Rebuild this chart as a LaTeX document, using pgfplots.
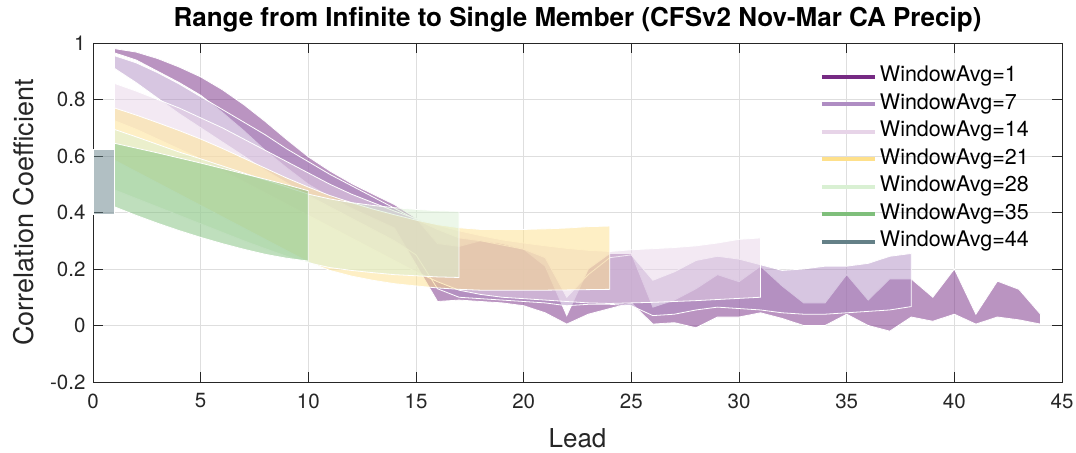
\documentclass[border=0pt]{standalone}
\usepackage{fontspec}
\setmainfont{TeX Gyre Heros}
\usepackage{pgfplots}
\usepackage{pgfplotstable}
\pgfplotsset{compat=1.18}
\usepgfplotslibrary{fillbetween}

\definecolor{cA}{RGB}{118,42,131}
\definecolor{cB}{RGB}{175,141,195}
\definecolor{cC}{RGB}{231,212,232}
\definecolor{cD}{RGB}{254,224,139}
\definecolor{cE}{RGB}{217,240,211}
\definecolor{cF}{RGB}{127,191,123}
\definecolor{cG}{RGB}{100,128,135}
\definecolor{axgray}{RGB}{38,38,38}

% WindowAvg=1
\pgfplotstableread{
lead up lo
1 0.980 0.965
2 0.968 0.940
3 0.945 0.900
4 0.915 0.860
5 0.880 0.815
6 0.835 0.755
7 0.782 0.690
8 0.722 0.620
9 0.658 0.558
10 0.597 0.500
11 0.547 0.455
12 0.503 0.415
13 0.465 0.380
14 0.428 0.345
15 0.380 0.215
16 0.290 0.085
17 0.280 0.090
18 0.300 0.085
19 0.290 0.080
20 0.270 0.070
21 0.210 0.045
22 0.035 0.005
23 0.200 0.040
24 0.255 0.060
25 0.255 0.080
26 0.065 0.005
27 0.090 0.010
28 0.130 -0.008
29 0.180 0.030
30 0.155 0.030
31 0.210 0.045
32 0.140 0.025
33 0.080 0.000
34 0.080 0.000
35 0.180 0.040
36 0.090 0.000
37 0.165 -0.020
38 0.165 0.030
39 0.100 0.015
40 0.200 0.040
41 0.040 0.005
42 0.157 0.030
43 0.128 0.020
44 0.040 0.005
}\bandA

% WindowAvg=7
\pgfplotstableread{
lead up lo
1 0.955 0.910
2 0.930 0.860
3 0.895 0.805
4 0.855 0.750
5 0.810 0.700
6 0.765 0.650
7 0.720 0.600
8 0.675 0.550
9 0.625 0.505
10 0.580 0.460
11 0.535 0.420
12 0.495 0.380
13 0.455 0.340
14 0.415 0.300
15 0.375 0.250
16 0.340 0.130
17 0.310 0.100
18 0.300 0.095
19 0.285 0.090
20 0.270 0.085
21 0.240 0.080
22 0.100 0.070
23 0.180 0.075
24 0.240 0.075
25 0.250 0.070
26 0.160 0.035
27 0.190 0.040
28 0.230 0.055
29 0.245 0.065
30 0.235 0.060
31 0.215 0.055
32 0.195 0.045
33 0.200 0.040
34 0.210 0.040
35 0.210 0.045
36 0.220 0.050
37 0.245 0.055
38 0.255 0.067
}\bandB

% WindowAvg=14
\pgfplotstableread{
lead up lo
1 0.857 0.725
2 0.830 0.695
3 0.800 0.660
4 0.770 0.625
5 0.735 0.590
6 0.700 0.550
7 0.660 0.510
8 0.620 0.470
9 0.580 0.430
10 0.540 0.390
11 0.500 0.350
12 0.465 0.310
13 0.435 0.270
14 0.405 0.230
15 0.378 0.190
16 0.355 0.155
17 0.335 0.125
18 0.318 0.110
19 0.303 0.100
20 0.292 0.095
21 0.282 0.090
22 0.273 0.085
23 0.266 0.080
24 0.262 0.078
25 0.268 0.080
26 0.272 0.082
27 0.276 0.085
28 0.282 0.088
29 0.292 0.092
30 0.305 0.096
31 0.310 0.100
}\bandC

% WindowAvg=21
\pgfplotstableread{
lead up lo
1 0.770 0.585
2 0.745 0.545
3 0.718 0.505
4 0.690 0.465
5 0.660 0.425
6 0.627 0.385
7 0.592 0.345
8 0.557 0.305
9 0.522 0.265
10 0.490 0.225
11 0.460 0.195
12 0.435 0.175
13 0.412 0.160
14 0.392 0.148
15 0.373 0.140
16 0.357 0.133
17 0.346 0.128
18 0.340 0.125
19 0.340 0.125
20 0.340 0.125
21 0.342 0.125
22 0.345 0.126
23 0.350 0.127
24 0.352 0.128
}\bandD

% WindowAvg=28
\pgfplotstableread{
lead up lo
1 0.694 0.480
2 0.668 0.450
3 0.641 0.420
4 0.614 0.390
5 0.590 0.360
6 0.565 0.330
7 0.540 0.300
8 0.515 0.272
9 0.490 0.245
10 0.465 0.222
11 0.448 0.205
12 0.435 0.195
13 0.425 0.187
14 0.417 0.180
15 0.411 0.176
16 0.406 0.172
17 0.404 0.170
}\bandE

% WindowAvg=35
\pgfplotstableread{
lead up lo
1 0.645 0.420
2 0.628 0.390
3 0.611 0.362
4 0.593 0.336
5 0.575 0.312
6 0.556 0.290
7 0.537 0.270
8 0.518 0.252
9 0.498 0.238
10 0.477 0.228
}\bandF

% WindowAvg=44
\pgfplotstableread{
lead up lo
0 0.625 0.395
1 0.625 0.395
}\bandG

\begin{document}
\begin{tikzpicture}
\begin{axis}[
  name=ax,
  scale only axis,
  width=969pt, height=339pt,
  xmin=0, xmax=45, ymin=-0.2, ymax=1,
  xtick={0,5,10,15,20,25,30,35,40,45},
  xticklabels={0,5,10,15,20,25,30,35,40,45},
  ytick={-0.2,0,0.2,0.4,0.6,0.8,1},
  yticklabels={-0.2,0,0.2,0.4,0.6,0.8,1},
  tick align=inside,
  major tick length=10pt,
  xtick pos=both, ytick pos=both,
  tick style={draw=axgray, line width=0.8pt},
  axis line style={draw=axgray, line width=0.8pt},
  grid=major,
  grid style={draw=black!13, line width=0.6pt},
  ticklabel style={font=\fontsize{20.5}{24}\selectfont, text=axgray},
  yticklabel style={xshift=-4pt},
  xticklabel style={yshift=-8pt},
  title={Range from Infinite to Single Member (CFSv2 Nov-Mar CA Precip)},
  title style={font=\fontsize{26}{30}\selectfont\bfseries, at={(axis description cs:0.5,1.03)}, anchor=base},
  xlabel={Lead},
  xlabel style={font=\fontsize{26}{30}\selectfont, text=axgray, at={(axis description cs:0.5,-0.192)}, anchor=base},
  ylabel={Correlation Coefficient},
  ylabel style={font=\fontsize{27}{31}\selectfont, text=axgray, at={(axis description cs:-0.0619,0.5)}, anchor=base, rotate=0},
  legend image code/.code={\draw[#1, line width=4pt] (0pt,0pt) -- (53pt,0pt);},
  legend style={draw=none, fill=none, at={(axis description cs:0.750,0.928)}, anchor=north west,
    font=\fontsize{21.5}{25}\selectfont, inner sep=0pt,
    nodes={inner xsep=3pt, inner ysep=0pt, text height=14pt, text depth=4pt},
    row sep=9.5pt},
  legend cell align=left,
]
% band 1
\addplot[draw=none, name path=uA, forget plot] table[x=lead, y=up]{\bandA};
\addplot[draw=none, name path=lA, forget plot] table[x=lead, y=lo]{\bandA};
\addplot[fill=cA, fill opacity=0.5, draw=white, line width=0.8pt, forget plot] fill between[of=uA and lA];
% band 7
\addplot[draw=none, name path=uB, forget plot] table[x=lead, y=up]{\bandB};
\addplot[draw=none, name path=lB, forget plot] table[x=lead, y=lo]{\bandB};
\addplot[fill=cB, fill opacity=0.5, draw=white, line width=0.8pt, forget plot] fill between[of=uB and lB];
% band 14
\addplot[draw=none, name path=uC, forget plot] table[x=lead, y=up]{\bandC};
\addplot[draw=none, name path=lC, forget plot] table[x=lead, y=lo]{\bandC};
\addplot[fill=cC, fill opacity=0.5, draw=white, line width=0.8pt, forget plot] fill between[of=uC and lC];
% band 21
\addplot[draw=none, name path=uD, forget plot] table[x=lead, y=up]{\bandD};
\addplot[draw=none, name path=lD, forget plot] table[x=lead, y=lo]{\bandD};
\addplot[fill=cD, fill opacity=0.5, draw=white, line width=0.8pt, forget plot] fill between[of=uD and lD];
% band 28
\addplot[draw=none, name path=uE, forget plot] table[x=lead, y=up]{\bandE};
\addplot[draw=none, name path=lE, forget plot] table[x=lead, y=lo]{\bandE};
\addplot[fill=cE, fill opacity=0.5, draw=white, line width=0.8pt, forget plot] fill between[of=uE and lE];
% band 35
\addplot[draw=none, name path=uF, forget plot] table[x=lead, y=up]{\bandF};
\addplot[draw=none, name path=lF, forget plot] table[x=lead, y=lo]{\bandF};
\addplot[fill=cF, fill opacity=0.5, draw=white, line width=0.8pt, forget plot] fill between[of=uF and lF];
% band 44
\addplot[draw=none, name path=uG, forget plot] table[x=lead, y=up]{\bandG};
\addplot[draw=none, name path=lG, forget plot] table[x=lead, y=lo]{\bandG};
\addplot[fill=cG, fill opacity=0.5, draw=white, line width=0.8pt, forget plot] fill between[of=uG and lG];

\addlegendimage{cA}\addlegendentry{WindowAvg=1}
\addlegendimage{cB}\addlegendentry{WindowAvg=7}
\addlegendimage{cC}\addlegendentry{WindowAvg=14}
\addlegendimage{cD}\addlegendentry{WindowAvg=21}
\addlegendimage{cE}\addlegendentry{WindowAvg=28}
\addlegendimage{cF}\addlegendentry{WindowAvg=35}
\addlegendimage{cG}\addlegendentry{WindowAvg=44}
\end{axis}
\pgfresetboundingbox
\path ([shift={(-93pt,-70pt)}]ax.south west) rectangle ([shift={(14pt,43pt)}]ax.north east);
\end{tikzpicture}
\end{document}
